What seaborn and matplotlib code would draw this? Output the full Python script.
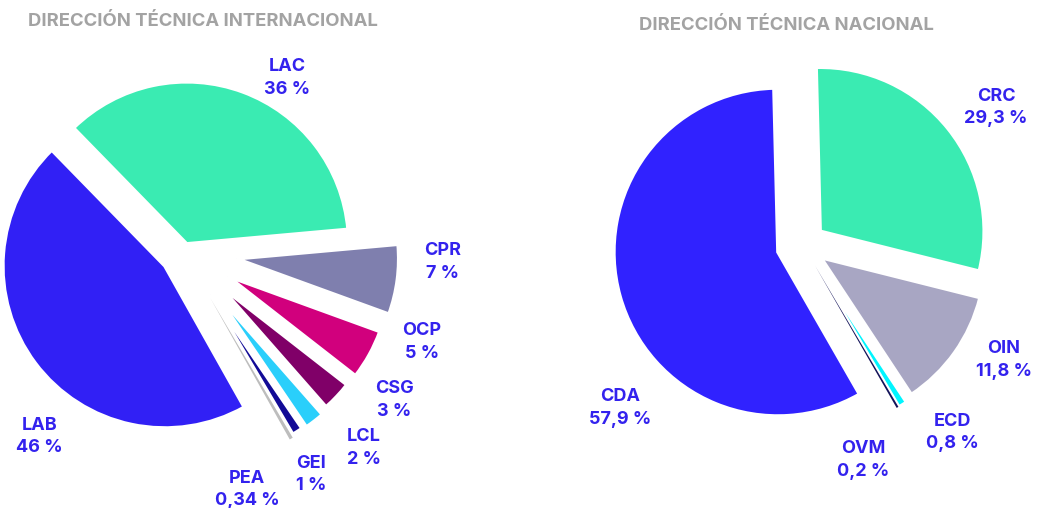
import matplotlib
matplotlib.use('Agg')
from matplotlib import pyplot as plt
import seaborn as sns

sns.set_style('white')
plt.rcParams['font.family'] = ['Inter', 'DejaVu Sans']

# Dirección técnica internacional (clockwise order, starting with LAC)
int_labels = ['LAC', 'CPR', 'OCP', 'CSG', 'LCL', 'GEI', 'PEA', 'LAB']
int_values = [36, 7, 5, 3, 2, 1, 0.34, 46]
int_colors = ['#3AEBB2', '#7F7FAE', '#D1007D', '#800068', '#2ACFFB', '#120A96', '#BDBDBD', '#3120F5']

# Dirección técnica nacional (clockwise order, starting with CRC)
nat_labels = ['CRC', 'OIN', 'ECD', 'OVM', 'CDA']
nat_values = [29.3, 11.8, 0.8, 0.2, 57.9]
nat_colors = ['#3AEBB2', '#A8A6C3', '#00F5FF', '#14145A', '#3022FF']

# layout: explode per slice, white edge per slice, label anchor (in pie radii from the centre)
int_explode = [0.053, 0.33, 0.31, 0.30, 0.32, 0.31, 0.33, 0.145]
int_edges = [2.5, 2.5, 2.5, 2.5, 2.5, 2.0, 0, 2.5]
int_label_pos = [(0.639, 1.074), (1.596, -0.062), (1.472, -0.556), (1.299, -0.914),
                 (1.114, -1.210), (0.787, -1.373), (0.392, -1.469), (-0.892, -1.142)]
nat_explode = [0.134, 0.134, 0.146, 0.146, 0.159]
nat_edges = [2.5, 2.5, 2.0, 0, 2.5]
nat_label_pos = [(1.177, 0.836), (1.226, -0.701), (0.909, -1.146), (0.366, -1.311), (-1.116, -0.994)]

label_color = '#3322EE'
title_color = '#A3A3A3'


def pct_text(v):
    return f"{v:g}".replace('.', ',') + ' %'


def draw_pie(ax, values, labels, colors, explode, edges, label_pos, startangle):
    wedges, _ = ax.pie(values, colors=colors, explode=explode, startangle=startangle,
                       counterclock=False, radius=1, wedgeprops=dict(edgecolor='white'))
    for w, lw in zip(wedges, edges):
        w.set_linewidth(lw)
    for lab, v, (x, y) in zip(labels, values, label_pos):
        ax.text(x, y, lab + '\n' + pct_text(v), ha='center', va='center',
                fontsize=13, fontweight='bold', color=label_color, linespacing=1.4)


fig = plt.figure(figsize=(10.38, 5.08), dpi=100)

ax1 = fig.add_axes([0, 0, 0.5, 1])
draw_pie(ax1, int_values, int_labels, int_colors, int_explode, int_edges, int_label_pos, 134.3)
ax1.set_xlim(-1.134, 2.070)
ax1.set_ylim(-1.581, 1.555)
ax1.set_aspect('auto')
ax1.axis('off')

ax2 = fig.add_axes([0.5, 0, 0.5, 1])
draw_pie(ax2, nat_values, nat_labels, nat_colors, nat_explode, nat_edges, nat_label_pos, 91.4)
ax2.set_xlim(-1.732, 1.433)
ax2.set_ylim(-1.604, 1.494)
ax2.set_aspect('auto')
ax2.axis('off')

fig.text(203 / 1038, 1 - 22 / 508, 'DIRECCIÓN TÉCNICA INTERNACIONAL', ha='center', va='center',
         fontsize=13.3, fontweight='bold', color=title_color)
fig.text(786 / 1038, 1 - 25 / 508, 'DIRECCIÓN TÉCNICA NACIONAL', ha='center', va='center',
         fontsize=13.3, fontweight='bold', color=title_color)

plt.savefig('out.png', dpi=100)
